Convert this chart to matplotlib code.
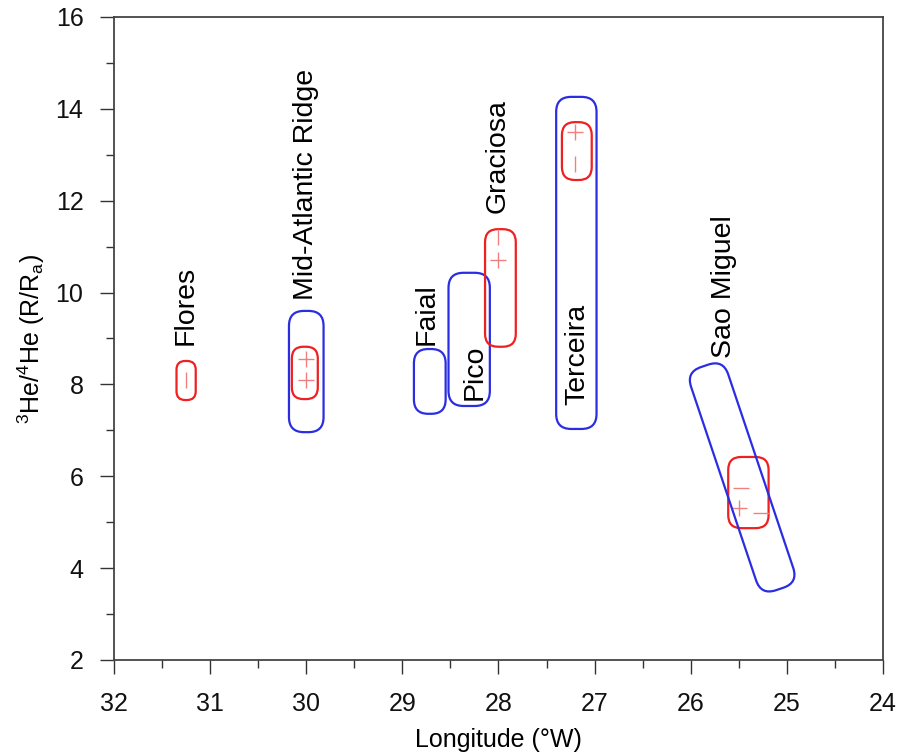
import numpy as np
import matplotlib
matplotlib.use("Agg")
import matplotlib.pyplot as plt
from matplotlib.patches import FancyBboxPatch
from matplotlib.transforms import Affine2D
from matplotlib.ticker import MultipleLocator

plt.rcParams['font.family'] = ['Liberation Sans', 'DejaVu Sans']
plt.rcParams['mathtext.default'] = 'regular'

# Blue (rock) range boxes: x0, x1 (longitude), y0, y1 (3He/4He)
blue_names = ["Mid-Atlantic Ridge", "Faial", "Pico", "Terceira"]
blue_x0 = [29.82, 28.55, 28.09, 26.98]
blue_x1 = [30.18, 28.88, 28.52, 27.40]
blue_y0 = [6.96, 7.36, 7.53, 7.03]
blue_y1 = [9.60, 8.77, 10.43, 14.26]

# Red (gas) range boxes
red_names = ["Flores", "Mid-Atlantic Ridge", "Graciosa", "Terceira", "Sao Miguel"]
red_x0 = [31.15, 29.88, 27.82, 27.03, 25.19]
red_x1 = [31.35, 30.15, 28.14, 27.34, 25.61]
red_y0 = [7.66, 7.68, 8.82, 12.45, 4.87]
red_y1 = [8.51, 8.82, 11.38, 13.71, 6.42]

# Sao Miguel slanted blue range: centre-line end points and half width (deg lon)
sm_lon = [25.79, 25.14]
sm_he = [8.00, 3.95]
sm_halfwidth_lon = 0.215

# Individual measurements
pt_lon = [31.25, 30.0, 30.0, 28.0, 28.0, 27.2, 27.2, 25.5, 25.48, 25.27]
pt_he = [8.1, 8.55, 8.1, 10.7, 11.2, 13.5, 12.8, 5.3, 5.75, 5.2]
pt_mark = ['|', '+', '+', '+', '|', '+', '|', '+', '_', '_']

# Labels
lab_text = ["Flores", "Mid-Atlantic Ridge", "Faial", "Pico", "Graciosa", "Terceira", "Sao Miguel"]
lab_lon = [31.25, 30.0, 28.75, 28.25, 28.01, 27.18, 25.65]
lab_he = [8.86, 9.84, 8.86, 7.66, 11.73, 7.55, 8.58]

BLUE = '#2a2ee0'
RED = '#ee2020'
PT = '#f08080'

fig = plt.figure(figsize=(9.10, 7.54), dpi=100)
ax = fig.add_axes([0.1253, 0.1247, 0.8450, 0.8528])
ax.set_xlim(32, 24)
ax.set_ylim(2, 16)

# aspect: px per unit
bbox = ax.get_window_extent()
pxx = bbox.width / 8.0
pxy = bbox.height / 14.0
asp = pxx / pxy


def rbox(x0, x1, y0, y1, color, r_px=15):
    w = x1 - x0
    h = y1 - y0
    r = min(r_px / pxx, 0.45 * w, 0.45 * h * pxy / pxx)
    p = FancyBboxPatch((x0, y0), w, h,
                       boxstyle=f"round,pad=0,rounding_size={r}",
                       mutation_aspect=asp, fill=False, edgecolor=color,
                       linewidth=1.6, zorder=3)
    ax.add_patch(p)

for i in range(len(blue_x0)):
    rbox(blue_x0[i], blue_x1[i], blue_y0[i], blue_y1[i], BLUE, 15)
for i in range(len(red_x0)):
    rbox(red_x0[i], red_x1[i], red_y0[i], red_y1[i], RED, 13)

# Sao Miguel slanted box in display coordinates
p1 = ax.transData.transform((sm_lon[0], sm_he[0]))
p2 = ax.transData.transform((sm_lon[1], sm_he[1]))
c = (p1 + p2) / 2
d = p2 - p1
L = np.hypot(*d)
ang = np.degrees(np.arctan2(d[1], d[0])) - 90
wpx = abs(2 * sm_halfwidth_lon * pxx * np.cos(np.radians(ang)))
ext = wpx / 2
sm = FancyBboxPatch((-wpx / 2, -L / 2 - ext), wpx, L + 2 * ext,
                    boxstyle=f"round,pad=0,rounding_size={wpx*0.4}",
                    fill=False, edgecolor=BLUE, linewidth=1.6, zorder=3)
sm.set_transform(Affine2D().rotate_deg(ang).translate(c[0], c[1]))
fig.add_artist(sm)
sm.set_clip_on(False)

for x, y, m in zip(pt_lon, pt_he, pt_mark):
    ax.plot([x], [y], linestyle='none', marker=m, markersize=11,
            markeredgewidth=1.0, color=PT, zorder=4)

for t, x, y in zip(lab_text, lab_lon, lab_he):
    ax.text(x, y, t, rotation=90, ha='center', va='bottom', fontsize=20.5,
            color='black', zorder=5)

ax.xaxis.set_major_locator(MultipleLocator(1))
ax.xaxis.set_minor_locator(MultipleLocator(0.5))
ax.yaxis.set_major_locator(MultipleLocator(2))
ax.yaxis.set_minor_locator(MultipleLocator(1))
ax.tick_params(which='both', direction='out', top=False, right=False,
               labelsize=18, width=1.0, color='#333333', labelcolor='#111111')
ax.tick_params(which='major', length=10)
ax.tick_params(axis='x', which='major', pad=13)
ax.tick_params(axis='y', which='major', pad=12)
ax.tick_params(which='minor', length=6)
for s in ax.spines.values():
    s.set_linewidth(1.3)
    s.set_color('#444444')

ax.set_xlabel('Longitude (°W)', fontsize=18, labelpad=9)
ax.set_ylabel(r'$^{3}$He/$^{4}$He (R/R$_{a}$)', fontsize=18, labelpad=6)

fig.savefig('out.png', dpi=100)
